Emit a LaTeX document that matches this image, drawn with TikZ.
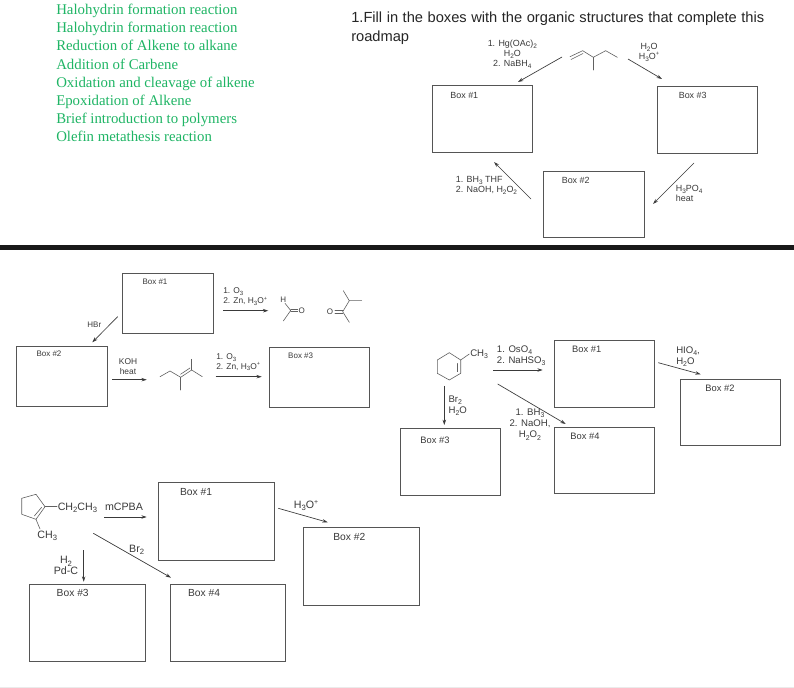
\documentclass[tikz,border=0pt]{standalone}
\usepackage{fontspec}
\setmainfont{Liberation Sans}
\newfontfamily\greenfont{Liberation Serif}
\usetikzlibrary{arrows.meta}
\definecolor{ink}{HTML}{3A3A3A}
\definecolor{boxline}{HTML}{555555}
\definecolor{listgreen}{HTML}{1FB565}
\newcommand{\dn}[1]{\raisebox{-0.22em}{\scalebox{.72}{#1}}}
\newcommand{\up}[1]{\raisebox{0.38em}{\scalebox{.65}{#1}}}
\newcommand{\titlefont}{\fontsize{11}{14.2}\selectfont\spaceskip=3.4pt\relax}
\tikzset{
  x=0.75pt,y=-0.75pt,
  bx/.style={draw=boxline,line width=0.75pt},
  lblA/.style={text=ink,inner sep=0pt,font=\fontsize{6.7}{8}\selectfont},
  lblM/.style={text=ink,inner sep=0pt,font=\fontsize{6}{7}\selectfont},
  lblR/.style={text=ink,inner sep=0pt,font=\fontsize{7}{8}\selectfont},
  lblB/.style={text=ink,inner sep=0pt,font=\fontsize{7.7}{9}\selectfont},
  rgA/.style={text=ink,inner sep=0pt,align=center,font=\fontsize{6.7}{7.6}\selectfont},
  rgL/.style={text=ink,inner sep=0pt,align=left,anchor=west,font=\fontsize{6.7}{7.8}\selectfont},
  rgM/.style={text=ink,inner sep=0pt,align=left,anchor=west,font=\fontsize{6.3}{7.3}\selectfont},
  rgR/.style={text=ink,inner sep=0pt,align=left,anchor=west,font=\fontsize{7.2}{8.4}\selectfont},
  rgB/.style={text=ink,inner sep=0pt,font=\fontsize{8}{9}\selectfont},
  arr/.style={draw=ink,line width=0.5pt,-{Stealth[length=4pt,width=2.6pt]}},
  bond/.style={draw=ink!80,line width=0.45pt,line join=round,line cap=round},
}
\begin{document}
\begin{tikzpicture}
\useasboundingbox (0,0) rectangle (794,688);
\fill[white] (0,0) rectangle (794,688);
% divider
\fill[black!90] (0,245) rectangle (794,250);
\draw[black!8,line width=0.5pt] (0,687) -- (794,687);
% header texts
\node[anchor=west,inner sep=0pt,align=left,text=listgreen,font=\greenfont\fontsize{11.12}{13.65}\selectfont] (topics) at (56,73)
 {Halohydrin formation reaction\\Halohydrin formation reaction\\Reduction of Alkene to alkane\\Addition of Carbene\\Oxidation and cleavage of alkene\\Epoxidation of Alkene\\Brief introduction to polymers\\Olefin metathesis reaction};
\node[anchor=west,inner sep=0pt,align=left,text=black!85,font=\titlefont] (title) at (351,28)
 {1.Fill in the boxes with the organic structures that complete this\\roadmap};
% ---- roadmap 1
\draw[bx] (432,86) rectangle (532,153);
\draw[bx] (657,87) rectangle (757,154);
\draw[bx] (543,172) rectangle (644,238);
\node[lblA] (ta) at (464.3,95.3) {Box \#1};
\node[lblA] (tc) at (692.7,95.7) {Box \#3};
\node[lblA] (tb) at (575.7,180.3) {Box \#2};
\draw[bond] (570,56.7) -- (582.7,50.7) -- (593.3,57.3) -- (605.7,50.7) -- (617.3,57.3);
\draw[bond] (571,59.5) -- (583,53.5);
\draw[bond] (593.3,57.3) -- (593.3,70);
\node[rgA] (t1) at (512.3,54.5) {1. Hg(OAc)\dn{2}\\H\dn{2}O\\2. NaBH\dn{4}};
\node[rgA] (t2) at (649,52) {H\dn{2}O\\H\dn{3}O\up{+}};
\node[rgL] (t3) at (455.7,185.5) {1. BH\dn{3} THF\\2. NaOH, H\dn{2}O\dn{2}};
\node[rgL] (t4) at (675.7,193.2) {H\dn{3}PO\dn{4}\\heat};
\coordinate (p1) at (562,57); \coordinate (q1) at (518,82);
\coordinate (p2) at (628,59); \coordinate (q2) at (662,79);
\coordinate (p3) at (531,199); \coordinate (q3) at (494,162);
\coordinate (p4) at (694,163); \coordinate (q4) at (653,204);
\draw[arr] (p1) -- (q1); \draw[arr] (p2) -- (q2); \draw[arr] (p3) -- (q3); \draw[arr] (p4) -- (q4);
% ---- roadmap 2
\draw[bx] (122,274) rectangle (213,334);
\draw[bx] (16,347) rectangle (107,407);
\draw[bx] (269,348) rectangle (369,408);
\node[lblM] (ma) at (155,281.7) {Box \#1};
\node[lblM] (mb) at (49,354) {Box \#2};
\node[lblM] (mc) at (300.7,355.3) {Box \#3};
\node[rgM] (m1) at (223,296.7) {1. O\dn{3}\\2. Zn, H\dn{3}O\up{+}};
\node[rgM] (m2) at (216,362.3) {1. O\dn{3}\\2. Zn, H\dn{3}O\up{+}};
\node[rgM,align=center,anchor=center] (m3) at (128,366.5) {KOH\\heat};
\node[lblM] (m4) at (94.3,325) {HBr};
\node[lblM] (mh) at (283.3,299.5) {H};
\node[lblM] (mo1) at (301.7,310.7) {O};
\node[lblM] (mo2) at (330,311.7) {O};
\draw[bond] (283.3,321) -- (290.7,310.5) -- (285,303.3);
\draw[bond] (290.7,309.5) -- (297.7,309.5);
\draw[bond] (290.7,311.7) -- (297.7,311.7);
\draw[bond] (335,310.7) -- (342.7,310.7);
\draw[bond] (335,313) -- (342.7,313);
\draw[bond] (349.3,322.3) -- (342.7,311.7) -- (349.3,300.7) -- (361.7,300.7);
\draw[bond] (349.3,300.7) -- (343.3,290.7);
\draw[bond] (160,376.7) -- (170,371) -- (180.7,377.3) -- (191.7,370) -- (202.3,376.7);
\draw[bond] (180.5,374.3) -- (190,368);
\draw[bond] (191.7,370) -- (191.7,359.3);
\draw[bond] (180.7,377.3) -- (180.7,390);
\coordinate (p5) at (117.7,316.7); \coordinate (q5) at (92.3,342.3);
\coordinate (p6) at (223.3,310.7); \coordinate (q6) at (268.3,310.7);
\coordinate (p7) at (112,379.7); \coordinate (q7) at (146.7,379.7);
\coordinate (p8) at (215.7,376.7); \coordinate (q8) at (261.7,376.7);
\draw[arr] (p5) -- (q5); \draw[arr] (p6) -- (q6); \draw[arr] (p7) -- (q7); \draw[arr] (p8) -- (q8);
% ---- roadmap 3
\draw[bx] (554,341) rectangle (654,408);
\draw[bx] (680,380) rectangle (780,446);
\draw[bx] (400,429) rectangle (500,496);
\draw[bx] (554,428) rectangle (654,494);
\node[lblR] (ra) at (586.7,349) {Box \#1};
\node[lblR] (rb) at (720,388) {Box \#2};
\node[lblR] (rc) at (435,440) {Box \#3};
\node[lblR] (rd) at (585,436) {Box \#4};
\draw[bond] (449.3,352.7) -- (460.7,360) -- (460.7,373.3) -- (449.3,380) -- (437.3,373.3) -- (437.3,360) -- cycle;
\draw[bond] (457.7,363.5) -- (457.7,371.7);
\draw[bond] (460.7,360) -- (469.3,354);
\node[rgR,anchor=west] (r0) at (470,354) {CH\dn{3}};
\node[rgR] (r1) at (496.7,356) {1. OsO\dn{4}\\2. NaHSO\dn{3}};
\node[rgR] (r2) at (448.3,405.5) {Br\dn{2}\\H\dn{2}O};
\node[rgR,align=center,anchor=center] (r3) at (530,424.5) {1. BH\dn{3}\\2. NaOH,\\H\dn{2}O\dn{2}};
\node[rgR] (r4) at (676,356.5) {HIO\dn{4},\\H\dn{2}O};
\coordinate (p9) at (493.3,370); \coordinate (q9) at (542.7,370);
\coordinate (p10) at (497.7,384); \coordinate (q10) at (565.7,424);
\coordinate (p11) at (444.3,386); \coordinate (q11) at (444.3,425);
\coordinate (p12) at (658.3,362.7); \coordinate (q12) at (700.7,374.3);
\draw[arr] (p9) -- (q9); \draw[arr] (p10) -- (q10); \draw[arr] (p11) -- (q11); \draw[arr] (p12) -- (q12);
% ---- roadmap 4
\draw[bx] (158,483) rectangle (274,560);
\draw[bx] (303,528) rectangle (419,605);
\draw[bx] (29,584) rectangle (145,661);
\draw[bx] (170,584) rectangle (285,661);
\node[lblB] (ba) at (196,492.3) {Box \#1};
\node[lblB] (bb) at (349.3,537.3) {Box \#2};
\node[lblB] (bc) at (72.7,593.3) {Box \#3};
\node[lblB] (bd) at (204,593) {Box \#4};
\draw[bond] (21.7,498.3) -- (36,494.3) -- (45,506.7) -- (36,519.3) -- (21.7,514.3) -- cycle;
\draw[bond] (41.7,507.3) -- (34.3,516);
\draw[bond] (45,506.7) -- (57,506.7);
\draw[bond] (36,519.3) -- (40,529);
\node[rgB,anchor=west] (b0) at (57.5,508) {CH\dn{2}CH\dn{3}};
\node[rgB] (b1) at (47.3,535.7) {CH\dn{3}};
\node[rgB] (b2) at (124,507.3) {mCPBA};
\node[rgB] (b3) at (136.7,550) {Br\dn{2}};
\node[rgB,align=center,font=\fontsize{8}{8}\selectfont] (b4) at (66,565.5) {H\dn{2}\\Pd-C};
\node[rgB] (b5) at (306,505.7) {H\dn{3}O\up{+}};
\coordinate (p13) at (104,517); \coordinate (q13) at (146.7,517);
\coordinate (p14) at (93.3,533.3); \coordinate (q14) at (171,577.7);
\coordinate (p15) at (83.7,550.3); \coordinate (q15) at (83.7,581.7);
\coordinate (p16) at (278.3,508.3); \coordinate (q16) at (327.7,522.3);
\draw[arr] (p13) -- (q13); \draw[arr] (p14) -- (q14); \draw[arr] (p15) -- (q15); \draw[arr] (p16) -- (q16);
\end{tikzpicture}
\end{document}
